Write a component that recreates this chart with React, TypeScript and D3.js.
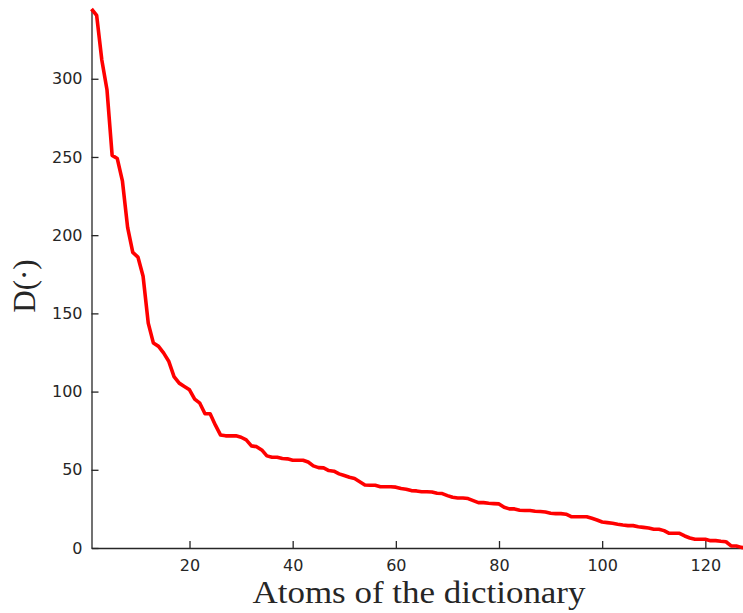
import { useEffect, useRef } from 'react';
import * as d3 from 'd3';

// --- Data ---
const atomValues: number[] = [
    344.6, 340.5, 312, 293, 251, 249, 234.5, 205, 189, 186,
    173.7, 143.8, 131, 128.9, 124.6, 119.2, 109.6, 105.4, 103.3, 101.1,
    95.2, 92.6, 85.8, 85.8, 78.7, 72.3, 71.7, 71.7, 71.7, 70.8,
    69.1, 65.3, 64.8, 62.7, 58.9, 58.0, 58.0, 57.2, 57.0, 56.1,
    56.1, 56.1, 55.0, 52.5, 51.4, 51.2, 49.5, 49.1, 47.4, 46.3,
    45.2, 44.4, 42.4, 40.3, 40.1, 40.1, 39.2, 39.2, 39.2, 38.9,
    38.0, 37.6, 36.7, 36.5, 36.0, 36.0, 35.8, 35.0, 34.8, 33.5,
    32.4, 32.0, 32.0, 31.6, 30.3, 29.0, 29.0, 28.6, 28.4, 28.2,
    26.0, 25.0, 25.0, 24.1, 24.0, 24.0, 23.5, 23.3, 23.0, 22.2,
    22.0, 22.0, 21.6, 20.0, 20.0, 20.0, 20.0, 19.0, 17.9, 16.6,
    16.2, 15.8, 15.2, 14.7, 14.3, 14.3, 13.6, 13.2, 12.8, 12.0,
    12.0, 11.1, 9.4, 9.4, 9.4, 7.7, 6.4, 5.6, 5.6, 5.6,
    4.7, 4.7, 4.3, 4.0, 1.3, 1.3, 0.4, 0
];
const xTicks = [20, 40, 60, 80, 100, 120];
const yTicks = [0, 50, 100, 150, 200, 250, 300];
const xLabel = 'Atoms of the dictionary';
const yLabel = 'D(·)';

const W = 743;
const H = 613;

export default function App() {
    const svgRef = useRef<SVGSVGElement>(null);

    useEffect(() => {
        if (!svgRef.current) return;
        const svg = d3.select(svgRef.current);
        svg.selectAll('*').remove();

        const x = d3.scaleLinear().domain([1, atomValues.length]).range([91.5, 746.6]);
        const y = d3.scaleLinear().domain([0, d3.max(atomValues) as number]).range([548, 9]);

        const axisColor = '#262626';

        // --- axes ---
        const gx = svg.append('g')
            .attr('transform', `translate(0,${y(0)})`)
            .call(d3.axisBottom(x).tickValues(xTicks).tickSizeInner(-7).tickSizeOuter(0).tickPadding(12));
        const gy = svg.append('g')
            .attr('transform', `translate(${x(1)},0)`)
            .call(d3.axisLeft(y).tickValues(yTicks).tickSizeInner(-7).tickSizeOuter(0).tickPadding(9));

        [gx, gy].forEach(g => {
            g.select('.domain').attr('stroke', axisColor).attr('stroke-width', 1.3);
            g.selectAll('.tick line').attr('stroke', axisColor).attr('stroke-width', 1.3);
            g.selectAll('.tick text')
                .attr('fill', axisColor)
                .style('font-family', '"DejaVu Sans", sans-serif')
                .style('font-size', '16px');
        });

        // --- curve ---
        const line = d3.line<number>()
            .x((_, i) => x(i + 1))
            .y(d => y(d));

        svg.append('path')
            .datum(atomValues)
            .attr('fill', 'none')
            .attr('stroke', '#ff0000')
            .attr('stroke-width', 3.6)
            .attr('stroke-linejoin', 'round')
            .attr('stroke-linecap', 'butt')
            .attr('d', line);

        // --- axis labels ---
        svg.append('text')
            .attr('x', 419)
            .attr('y', 603)
            .attr('text-anchor', 'middle')
            .attr('textLength', 333)
            .attr('lengthAdjust', 'spacingAndGlyphs')
            .style('font-family', '"Liberation Serif", "DejaVu Serif", serif')
            .style('font-size', '31px')
            .attr('fill', axisColor)
            .text(xLabel);

        svg.append('text')
            .attr('transform', 'translate(35,286) rotate(-90)')
            .attr('text-anchor', 'middle')
            .style('font-family', '"Liberation Serif", "DejaVu Serif", serif')
            .style('font-size', '31px')
            .attr('fill', axisColor)
            .text(yLabel);
    }, []);

    return (
        <svg
            ref={svgRef}
            width={W}
            height={H}
            style={{ position: 'absolute', left: 0, top: 0, background: '#fff' }}
        />
    );
}
